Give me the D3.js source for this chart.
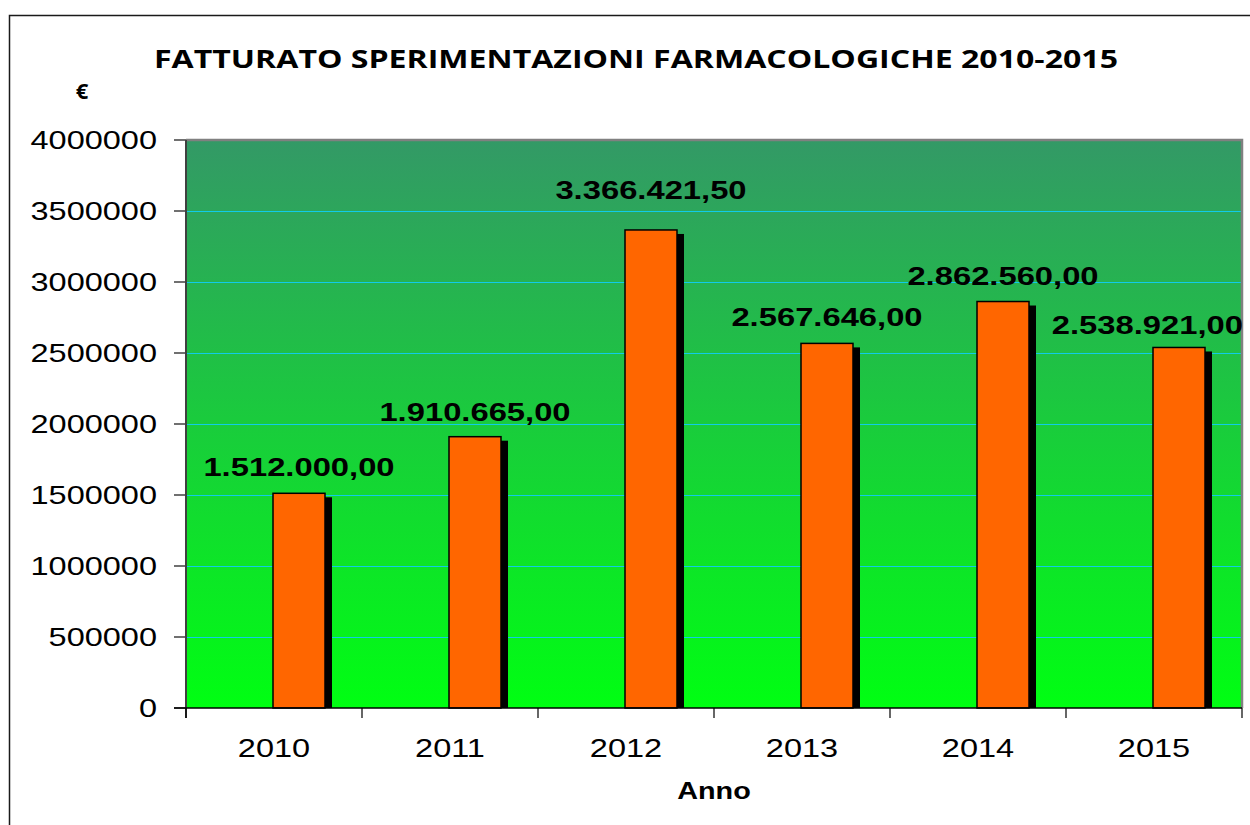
<!DOCTYPE html>
<html>
<head>
<meta charset="utf-8">
<script src="https://cdn.jsdelivr.net/npm/d3@7"></script>
<style>
  body { margin: 0; background: #fff; }
  svg { display: block; }
</style>
</head>
<body>
<div id="chart"></div>
<script>
// values
const years = ["2010", "2011", "2012", "2013", "2014", "2015"];
const revenue = [1512000.00, 1910665.00, 3366421.50, 2567646.00, 2862560.00, 2538921.00];
const yTicks = [0, 500000, 1000000, 1500000, 2000000, 2500000, 3000000, 3500000, 4000000];
const titleText = "FATTURATO SPERIMENTAZIONI FARMACOLOGICHE 2010-2015";

const width = 1250, height = 825;
const plot = {left: 186, top: 140, right: 1242, bottom: 708};

// text in the original is stretched horizontally
const stretchRegular = 1.3;
const stretchBold = 1.31;

// label lift above bar top (the original labels were placed by hand)
const labelLift = [17, 16, 31, 17, 17, 13];

const itFormat = d3.formatLocale({decimal: ",", thousands: ".", grouping: [3], currency: ["", "€"]}).format(",.2f");

const svg = d3.select("#chart").append("svg")
    .attr("width", width)
    .attr("height", height);

// gradient for the plot background
const defs = svg.append("defs");
const grad = defs.append("linearGradient")
    .attr("id", "bg")
    .attr("x1", 0).attr("y1", 0).attr("x2", 0).attr("y2", 1);
grad.append("stop").attr("offset", "0%").attr("stop-color", "#339966");
grad.append("stop").attr("offset", "100%").attr("stop-color", "#00ff12");

// outer chart border (runs off the right and bottom of the picture)
svg.append("rect")
    .attr("x", 9.5).attr("y", 15.5)
    .attr("width", 1400).attr("height", 1000)
    .attr("fill", "white")
    .attr("stroke", "#1a1a1a")
    .attr("stroke-width", 1.5);

const x = d3.scaleBand()
    .domain(years)
    .range([plot.left, plot.right])
    .padding(0);

const y = d3.scaleLinear()
    .domain([0, 4000000])
    .range([plot.bottom, plot.top]);

// stretched text helper
function stretchedText(sel, tx, ty, sx) {
    return sel.attr("transform", "translate(" + tx + "," + ty + ") scale(" + sx + ",1)");
}

// plot background
svg.append("rect")
    .attr("x", plot.left).attr("y", plot.top)
    .attr("width", plot.right - plot.left)
    .attr("height", plot.bottom - plot.top)
    .attr("fill", "url(#bg)");

// grid lines
svg.append("g")
    .selectAll("line")
    .data(yTicks.filter(d => d > 0 && d < 4000000))
    .join("line")
    .attr("x1", plot.left).attr("x2", plot.right)
    .attr("y1", d => y(d) + 0.5).attr("y2", d => y(d) + 0.5)
    .attr("stroke", "#10cce8")
    .attr("stroke-width", 1);

// plot border top and right
svg.append("path")
    .attr("d", `M${plot.left},${plot.top} H${plot.right} V${plot.bottom}`)
    .attr("fill", "none")
    .attr("stroke", "#808080")
    .attr("stroke-width", 2.5);

// bars
const barW = 52;
const barX = d => x(d) + x.bandwidth() / 2 - 1;

const bars = svg.append("g");
bars.selectAll("rect.shadow")
    .data(years)
    .join("rect")
    .attr("class", "shadow")
    .attr("x", d => barX(d) + 7)
    .attr("y", (d, i) => y(revenue[i]) + 4)
    .attr("width", barW)
    .attr("height", (d, i) => plot.bottom - y(revenue[i]) - 4)
    .attr("fill", "#000");

bars.selectAll("rect.bar")
    .data(years)
    .join("rect")
    .attr("class", "bar")
    .attr("x", d => barX(d))
    .attr("y", (d, i) => y(revenue[i]))
    .attr("width", barW)
    .attr("height", (d, i) => plot.bottom - y(revenue[i]))
    .attr("fill", "#ff6600")
    .attr("stroke", "#000")
    .attr("stroke-width", 1.5);

// y axis
const yAxis = svg.append("g");
yAxis.append("line")
    .attr("x1", plot.left).attr("x2", plot.left)
    .attr("y1", plot.top).attr("y2", plot.bottom + 10)
    .attr("stroke", "#404040").attr("stroke-width", 2);
yAxis.selectAll("line.tick")
    .data(yTicks)
    .join("line")
    .attr("class", "tick")
    .attr("x1", plot.left - 12).attr("x2", plot.left)
    .attr("y1", d => y(d)).attr("y2", d => y(d))
    .attr("stroke", "#404040").attr("stroke-width", 1.5);
yAxis.selectAll("text")
    .data(yTicks)
    .join("text")
    .each(function(d) { stretchedText(d3.select(this), 157, y(d) + 9, stretchRegular); })
    .attr("text-anchor", "end")
    .attr("font-family", "'Liberation Sans', Arial, sans-serif")
    .attr("font-size", 25)
    .attr("fill", "#000")
    .text(d => d);

// x axis
const xAxis = svg.append("g");
xAxis.append("line")
    .attr("x1", plot.left - 12).attr("x2", plot.right)
    .attr("y1", plot.bottom).attr("y2", plot.bottom)
    .attr("stroke", "#000").attr("stroke-width", 1.5);
xAxis.selectAll("line.tick")
    .data(years.concat(["end"]))
    .join("line")
    .attr("class", "tick")
    .attr("x1", (d, i) => plot.left + i * x.bandwidth())
    .attr("x2", (d, i) => plot.left + i * x.bandwidth())
    .attr("y1", plot.bottom).attr("y2", plot.bottom + 10)
    .attr("stroke", "#000").attr("stroke-width", 1.2);
xAxis.selectAll("text")
    .data(years)
    .join("text")
    .each(function(d) { stretchedText(d3.select(this), x(d) + x.bandwidth() / 2, 757, stretchRegular); })
    .attr("text-anchor", "middle")
    .attr("font-family", "'Liberation Sans', Arial, sans-serif")
    .attr("font-size", 25)
    .attr("fill", "#000")
    .text(d => d);

// value labels
const labels = svg.append("g");
labels.selectAll("text")
    .data(years)
    .join("text")
    .attr("text-anchor", "middle")
    .attr("font-family", "'Liberation Sans', Arial, sans-serif")
    .attr("font-weight", "bold")
    .attr("font-size", 25)
    .attr("fill", "#000")
    .text((d, i) => itFormat(revenue[i]))
    .each(function(d, i) {
        const el = d3.select(this);
        const w = this.getComputedTextLength() * stretchBold;
        let cx = barX(d) + barW / 2;
        if (cx + w / 2 > plot.right + 1) cx = plot.right + 1 - w / 2;
        stretchedText(el, cx, y(revenue[i]) - labelLift[i], stretchBold);
    });

// title
svg.append("text")
    .attr("x", 636).attr("y", 68)
    .attr("text-anchor", "middle")
    .attr("font-family", "'Open Sans', 'DejaVu Sans', sans-serif")
    .attr("font-weight", "bold")
    .attr("font-size", 25)
    .attr("textLength", 964)
    .attr("lengthAdjust", "spacingAndGlyphs")
    .text(titleText);

// unit
svg.append("text")
    .attr("x", 82).attr("y", 99)
    .attr("text-anchor", "middle")
    .attr("font-family", "'Open Sans', 'DejaVu Sans', sans-serif")
    .attr("font-weight", "bold")
    .attr("font-size", 22)
    .text("€");

// axis title
stretchedText(svg.append("text"), 714, 799, 1.2)
    .attr("text-anchor", "middle")
    .attr("font-family", "'Liberation Sans', Arial, sans-serif")
    .attr("font-weight", "bold")
    .attr("font-size", 24)
    .text("Anno");
</script>
</body>
</html>
